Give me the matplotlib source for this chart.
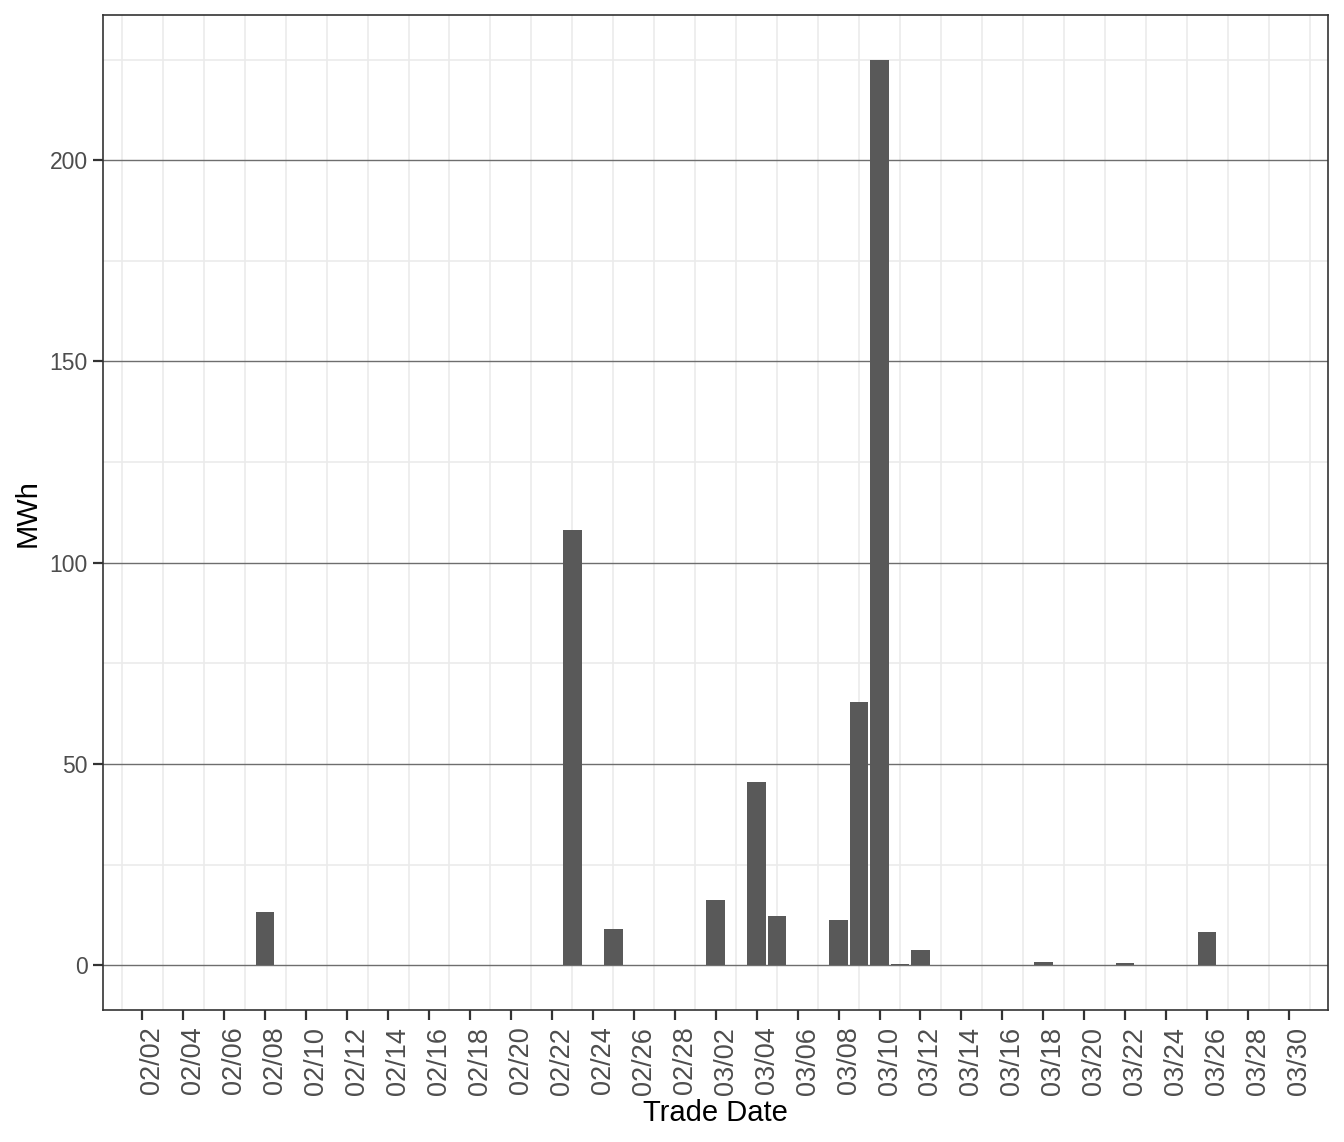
import matplotlib
matplotlib.use("Agg")
import matplotlib.pyplot as plt
import matplotlib.dates as mdates
import matplotlib.transforms as mtransforms
import datetime as dt

plt.rcParams['font.family'] = ['Liberation Sans', 'DejaVu Sans']

dates = ["2021-02-08", "2021-02-23", "2021-02-25", "2021-02-27", "2021-03-02",
         "2021-03-04", "2021-03-05", "2021-03-08", "2021-03-09", "2021-03-10",
         "2021-03-11", "2021-03-12", "2021-03-18", "2021-03-22", "2021-03-26"]
mwh = [13.2, 108.1, 9.0, 0.1, 16.2, 45.5, 12.25, 11.25, 65.4, 224.9,
       0.3, 3.8, 0.8, 0.55, 8.3]

tick_dates = [dt.date(2021, 2, 2) + dt.timedelta(days=2 * i) for i in range(29)]
tick_labels = [d.strftime("%m/%d") for d in tick_dates]
y_ticks = [0, 50, 100, 150, 200]
y_minor = [25, 75, 125, 175, 225]

x = mdates.date2num([dt.date.fromisoformat(d) for d in dates])

fig = plt.figure(figsize=(13.44, 11.42), dpi=100)
ax = fig.add_axes([103 / 1344, 1 - 1010 / 1142, (1328 - 103) / 1344, (1010 - 15.3) / 1142])

ax.bar(x, mwh, width=0.9, color="#595959", zorder=3)

x0 = mdates.date2num(dt.date(2021, 2, 2))
x1 = mdates.date2num(dt.date(2021, 3, 30))
ax.set_xlim(x0 - 1.92, x1 + 1.9)
ax.set_ylim(-11.1, 236.0)

ax.set_xticks(mdates.date2num(tick_dates))
ax.set_xticklabels(tick_labels, rotation=90, fontsize=19.5, color="#4d4d4d")
minor_x = [mdates.date2num(d) - 1 for d in tick_dates] + [x1 + 1]
ax.set_xticks(minor_x, minor=True)

ax.set_yticks(y_ticks)
ax.set_yticklabels([str(v) for v in y_ticks], fontsize=16.5, color="#4d4d4d")
ax.set_yticks(y_minor, minor=True)

ax.tick_params(axis='both', which='major', length=7, width=1.6, color="#333333", pad=5)
ax.tick_params(axis='y', which='major', pad=4)
ax.tick_params(axis='both', which='minor', length=0)

# shift rotated x tick labels to the right of their ticks (after tick_params)
offset = mtransforms.ScaledTranslation(10 / 100, 0, fig.dpi_scale_trans)
for lab in ax.get_xticklabels():
    lab.set_transform(lab.get_transform() + offset)

# gridlines
ax.grid(False)
for v in minor_x:
    ax.axvline(v, color="#ebebeb", lw=1.2, zorder=1)
for v in y_minor:
    ax.axhline(v, color="#ebebeb", lw=1.2, zorder=1)
for v in y_ticks:
    ax.axhline(v, color="#6e6e6e", lw=1.0, zorder=2)

for s in ax.spines.values():
    s.set_color("#333333")
    s.set_linewidth(1.2)

ax.set_xlabel("Trade Date", fontsize=21, color="black", labelpad=3)
ax.set_ylabel("MWh", fontsize=21, color="black", labelpad=6)

fig.savefig("out.png", dpi=100)
